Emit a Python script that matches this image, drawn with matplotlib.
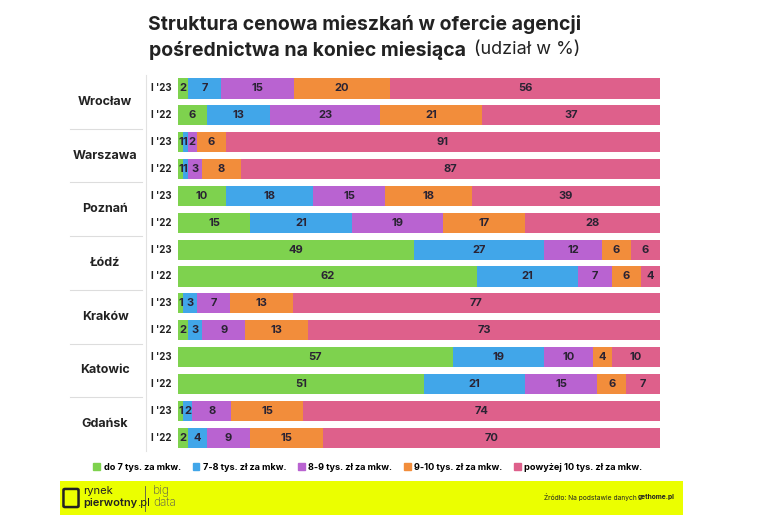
import matplotlib.pyplot as plt
import matplotlib.patches as patches
import numpy as np

plt.rcParams["font.family"] = ["Inter", "DejaVu Sans"]

cities = ["Wrocław", "Warszawa", "Poznań", "Łódź", "Kraków", "Katowic", "Gdańsk"]
periods = ["I '23", "I '22"]

categories = [
    "do 7 tys. za mkw.",
    "7-8 tys. zł za mkw.",
    "8-9 tys. zł za mkw.",
    "9-10 tys. zł za mkw.",
    "powyżej 10 tys. zł za mkw.",
]
colors = ["#7ed24e", "#41a6e9", "#b963d1", "#f28d3b", "#de608b"]

# one row per bar, top to bottom (city x period)
below_7 = [2, 6, 1, 1, 10, 15, 49, 62, 1, 2, 57, 51, 1, 2]
from_7_to_8 = [7, 13, 1, 1, 18, 21, 27, 21, 3, 3, 19, 21, 2, 4]
from_8_to_9 = [15, 23, 2, 3, 15, 19, 12, 7, 7, 9, 10, 15, 8, 9]
from_9_to_10 = [20, 21, 6, 8, 18, 17, 6, 6, 13, 13, 4, 6, 15, 15]
above_10 = [56, 37, 91, 87, 39, 28, 6, 4, 77, 73, 10, 7, 74, 70]

series = [below_7, from_7_to_8, from_8_to_9, from_9_to_10, above_10]

W, H = 772, 528
fig = plt.figure(figsize=(W / 100, H / 100), dpi=100)


def fx(px):
    return px / W


def fy(py):
    return 1 - py / H


# main bar axes
top, bottom = 75, 451
ax = fig.add_axes([fx(178), fy(bottom), fx(660) - fx(178), fy(top) - fy(bottom)])
n = len(below_7)
y = np.arange(n)
totals = np.sum(np.array(series), axis=0)  # rounded shares, some rows add to 101
left = np.zeros(n)
for vals, col in zip(series, colors):
    vals = np.array(vals)
    widths = vals / totals * 100
    ax.barh(y, widths, left=left, height=0.75, color=col, edgecolor="none")
    for yi, (l, w, v) in enumerate(zip(left, widths, vals)):
        ax.text(l + w / 2, yi, str(v), ha="center", va="center",
                fontsize=8, fontweight="bold", color="#2a2333")
    left += widths
ax.set_xlim(0, 100)
ax.set_ylim(n - 0.5, -0.5)
ax.axis("off")

# left labels
row_px = (bottom - top) / n
for i, city in enumerate(cities):
    c_y = top + row_px * (2 * i + 1)
    fig.text(fx(105), fy(c_y), city, ha="center", va="center",
             fontsize=9, fontweight="bold", color="#222222")
    for j, p in enumerate(periods):
        r_y = top + row_px * (2 * i + j + 0.5)
        fig.text(fx(151), fy(r_y), p, ha="left", va="center",
                 fontsize=7, fontweight="bold", color="#222222")
    if i > 0:
        sep_y = top + row_px * 2 * i
        fig.add_artist(plt.Line2D([fx(70), fx(142)], [fy(sep_y), fy(sep_y)],
                                  color="#dddddd", lw=0.8))
fig.add_artist(plt.Line2D([fx(146), fx(146)], [fy(top), fy(bottom)],
                          color="#e2e2e2", lw=0.8))

# title
fig.text(fx(365), fy(25), "Struktura cenowa mieszkań w ofercie agencji",
         ha="center", va="center", fontsize=14, fontweight="bold", color="#222222")
fig.text(fx(466), fy(50), "pośrednictwa na koniec miesiąca",
         ha="right", va="center", fontsize=14, fontweight="bold", color="#222222")
fig.text(fx(474), fy(50), "(udział w %)",
         ha="left", va="center", fontsize=13, color="#222222")

# legend
handles = [patches.Patch(color=c) for c in colors]
fig.legend(handles, categories, loc="center", bbox_to_anchor=(fx(368), fy(467)),
           ncol=5, frameon=False, handlelength=0.7, handleheight=0.7,
           handletextpad=0.4, columnspacing=1.3,
           prop={"size": 6.6, "weight": "bold"})

# footer band
fig.add_artist(patches.Rectangle((fx(60), fy(515)), fx(683) - fx(60), fy(481) - fy(515),
                                 transform=fig.transFigure, color="#ebff00", lw=0))
fig.add_artist(patches.FancyBboxPatch((fx(65), fy(506)), fx(12), fy(490) - fy(506),
                                      boxstyle="round,pad=0.002", transform=fig.transFigure,
                                      facecolor="none", edgecolor="#222222", lw=1.8))
fig.text(fx(83), fy(491), "rynek", ha="left", va="center", fontsize=8, color="#222222")
pier = fig.text(fx(83), fy(503), "pierwotny", ha="left", va="center", fontsize=8,
                fontweight="semibold", color="#222222")
renderer = fig.canvas.get_renderer()
bb = pier.get_window_extent(renderer)
fig.text(bb.x1 / fig.bbox.width, fy(503), ".pl", ha="left", va="center",
         fontsize=8, color="#222222")
fig.add_artist(plt.Line2D([fx(145), fx(145)], [fy(486), fy(511)], color="#555555", lw=0.6))
fig.text(fx(153), fy(491), "big", ha="left", va="center", fontsize=8.5,
         fontweight="light", color="#555555")
fig.text(fx(153), fy(503), "data", ha="left", va="center", fontsize=8.5,
         fontweight="light", color="#555555")
fig.text(fx(637), fy(497), "Źródło: Na podstawie danych", ha="right", va="center",
         fontsize=4.8, color="#222222")
fig.text(fx(638), fy(497), "gethome.pl", ha="left", va="center",
         fontsize=4.8, fontweight="bold", color="#222222")

fig.savefig("out.png", dpi=100, facecolor="white")
